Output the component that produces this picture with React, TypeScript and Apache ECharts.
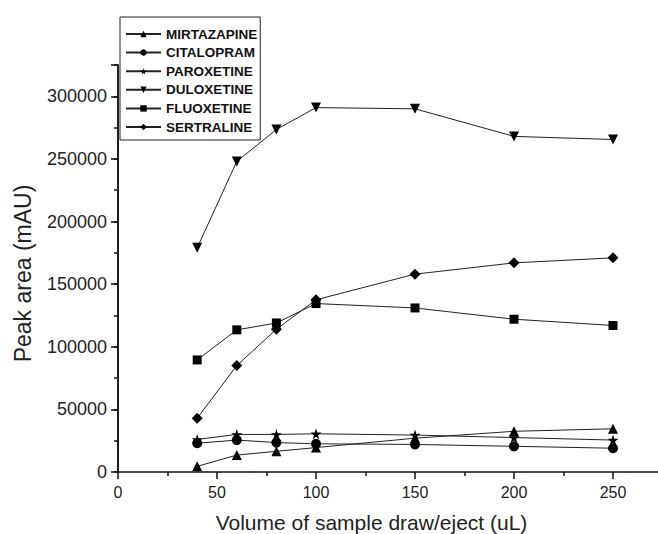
import React, { useEffect, useRef } from "react";
import * as echarts from "echarts";

const xValues = [40, 60, 80, 100, 150, 200, 250];
const seriesNames = ["MIRTAZAPINE", "CITALOPRAM", "PAROXETINE", "DULOXETINE", "FLUOXETINE", "SERTRALINE"];
const mirtazapine = [4500, 13500, 16500, 19500, 27000, 32500, 34500];
const citalopram = [23000, 25500, 23500, 22500, 22000, 20500, 19000];
const paroxetine = [26000, 30000, 30000, 30500, 29500, 27500, 25500];
const duloxetine = [179000, 248000, 273500, 291000, 290000, 268000, 265500];
const fluoxetine = [89500, 113500, 119000, 134500, 131000, 122000, 117000];
const sertraline = [43000, 85000, 114000, 137500, 158000, 167000, 171000];
const yTickLabels = ["0", "50000", "100000", "150000", "200000", "250000", "300000"];
const xTickLabels = ["0", "50", "100", "150", "200", "250"];

const STAR = "path://M50,0 L61,35 L98,35 L68,57 L79,91 L50,70 L21,91 L32,57 L2,35 L39,35 Z";
const FONT = 'Arial, "Liberation Sans", sans-serif';

export default function App() {
  const ref = useRef<HTMLDivElement>(null);
  useEffect(() => {
    if (!ref.current) return;
    const chart = echarts.init(ref.current, undefined, { renderer: "svg" });
    const allData = [mirtazapine, citalopram, paroxetine, duloxetine, fluoxetine, sertraline];
    const symbols: any[] = [
      { symbol: "triangle", size: 10, rotate: 0 },
      { symbol: "circle", size: 10, rotate: 0 },
      { symbol: STAR, size: 11, rotate: 0 },
      { symbol: "triangle", size: 10, rotate: 180 },
      { symbol: "rect", size: 9, rotate: 0 },
      { symbol: "diamond", size: 11, rotate: 0 },
    ];
    const series = seriesNames.map((name, i) => ({
      name,
      type: "line",
      yAxisIndex: 0,
      data: xValues.map((x, j) => [x, allData[i][j]]),
      symbol: symbols[i].symbol,
      symbolSize: symbols[i].size,
      symbolRotate: symbols[i].rotate,
      showSymbol: true,
      lineStyle: { color: "#222", width: 1 },
      itemStyle: { color: "#000", borderWidth: 0 },
      emphasis: { disabled: true },
    }));
    chart.setOption({
      animation: false,
      backgroundColor: "#fff",
      textStyle: { fontFamily: FONT },
      grid: { left: 118, right: -54, top: 65, bottom: 62, outerBoundsMode: "none", containLabel: false },
      xAxis: {
        type: "value",
        min: 0,
        max: 300,
        interval: 50,
        splitLine: { show: false },
        axisLine: { show: true, onZero: false, lineStyle: { color: "#111", width: 1.5 } },
        axisTick: { show: true, length: 7, inside: false, lineStyle: { color: "#111", width: 1.5 } },
        minorTick: { show: true, splitNumber: 2, length: 4, lineStyle: { color: "#111", width: 1.5 } },
        axisLabel: {
          margin: 12,
          fontSize: 16,
          color: "#222",
          fontFamily: FONT,
          formatter: (v: number) => (xTickLabels.includes(String(v)) ? String(v) : ""),
        },
      },
      yAxis: [
        {
          type: "value",
          min: 0,
          max: 325000,
          interval: 25000,
          position: "left",
          splitLine: { show: false },
          axisLine: { show: true, onZero: false, lineStyle: { color: "#111", width: 1.5 } },
          axisTick: { show: true, length: 4, lineStyle: { color: "#111", width: 1.5 } },
          axisLabel: { show: false },
        },
        {
          type: "value",
          min: 0,
          max: 325000,
          interval: 50000,
          position: "left",
          offset: 0,
          splitLine: { show: false },
          axisLine: { show: true, onZero: false, lineStyle: { color: "#111", width: 1.5 } },
          axisTick: { show: true, length: 7, lineStyle: { color: "#111", width: 1.5 } },
          axisLabel: {
            margin: 11,
            fontSize: 18,
            color: "#222",
            fontFamily: FONT,
            formatter: (v: number) => (yTickLabels.includes(String(v)) ? String(v) : ""),
          },
        },
      ],
      legend: {
        orient: "vertical",
        left: 120,
        top: 17,
        padding: [10, 3, 6, 5],
        itemWidth: 35,
        itemHeight: 8,
        itemGap: 4.6,
        backgroundColor: "#fff",
        borderColor: "#222",
        borderWidth: 1,
        borderRadius: 0,
        selectedMode: false,
        textStyle: { fontSize: 13.5, fontWeight: "bold", color: "#111", fontFamily: FONT },
        data: seriesNames,
      },
      graphic: [
        {
          type: "text",
          x: 371.5,
          y: 522,
          style: {
            text: "Volume of sample draw/eject (uL)",
            fontSize: 21,
            fontFamily: FONT,
            fill: "#222",
            align: "center",
            verticalAlign: "middle",
            textAlign: "center",
            textVerticalAlign: "middle",
          },
        },
        {
          type: "text",
          x: 23,
          y: 273.5,
          rotation: Math.PI / 2,
          style: {
            text: "Peak area (mAU)",
            fontSize: 23,
            fontFamily: FONT,
            fill: "#222",
            align: "center",
            verticalAlign: "middle",
            textAlign: "center",
            textVerticalAlign: "middle",
          },
        },
      ],
      series,
    });
    return () => chart.dispose();
  }, []);
  return (
    <div
      ref={ref}
      style={{ position: "fixed", left: 0, top: 0, width: 658, height: 534 }}
    />
  );
}
